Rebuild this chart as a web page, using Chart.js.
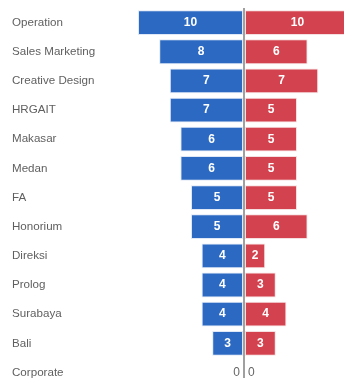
<!DOCTYPE html>
<html><head><meta charset="utf-8">
<script src="https://cdn.jsdelivr.net/npm/chart.js@4.4.1/dist/chart.umd.min.js"></script>
<style>
html,body{margin:0;padding:0;overflow:hidden;background:#fff;width:344px;height:378px;}
#wrap{width:350px;height:394px;position:relative;}
</style></head><body>
<div id="wrap"><canvas id="c" width="350" height="394"></canvas></div>
<script>
const categories = ["Operation","Sales Marketing","Creative Design","HRGAIT","Makasar","Medan","FA","Honorium","Direksi","Prolog","Surabaya","Bali","Corporate"];
const blueValues = [10,8,7,7,6,6,5,5,4,4,4,3,0];
const redValues  = [10,6,7,5,5,5,5,6,2,3,4,3,0];

const labelPlugin = {
  id: 'barLabels',
  afterDatasetsDraw(chart) {
    const ctx = chart.ctx;
    const xs = chart.scales.x;
    ctx.save();
    ctx.textBaseline = 'middle';
    chart.data.datasets.forEach((ds, di) => {
      const meta = chart.getDatasetMeta(di);
      meta.data.forEach((bar, i) => {
        const raw = di === 0 ? blueValues[i] : redValues[i];
        const y = bar.y;
        if (raw === 0) {
          ctx.font = '12px "Liberation Sans", Arial, sans-serif';
          ctx.fillStyle = '#666';
          const x0 = xs.getPixelForValue(0);
          if (di === 0) { ctx.textAlign = 'right'; ctx.fillText('0', x0 - 4, y); }
          else { ctx.textAlign = 'left'; ctx.fillText('0', x0 + 4, y); }
        } else {
          ctx.font = 'bold 12px "Liberation Sans", Arial, sans-serif';
          ctx.fillStyle = '#fff';
          ctx.textAlign = 'center';
          ctx.fillText(String(raw), (bar.x + bar.base) / 2, y);
        }
      });
    });
    ctx.restore();
  }
};

new Chart(document.getElementById('c'), {
  type: 'bar',
  data: {
    labels: categories,
    datasets: [
      { data: blueValues.map(v => -v), backgroundColor: '#2b69c3', borderColor: 'rgba(220,230,245,0.9)', borderWidth: 1, borderSkipped: false, barPercentage: 0.85, categoryPercentage: 1 },
      { data: redValues, backgroundColor: '#d3434f', borderColor: 'rgba(245,220,222,0.9)', borderWidth: 1, borderSkipped: false, barPercentage: 0.85, categoryPercentage: 1 }
    ]
  },
  options: {
    indexAxis: 'y',
    responsive: false,
    animation: false,
    layout: { padding: { left: 12, top: 8, bottom: 0, right: 0 } },
    plugins: { legend: { display: false }, tooltip: { enabled: false } },
    scales: {
      x: {
        stacked: true, min: -10, max: 10,
        ticks: { display: false, padding: 0 },
        border: { display: false },
        grid: { color: c => c.tick && c.tick.value === 0 ? '#a0a0a0' : 'transparent', lineWidth: 2, drawTicks: false },
        afterFit: s => { s.height = 0; }
      },
      y: {
        stacked: true,
        border: { display: false },
        grid: { display: false, drawTicks: false },
        ticks: { crossAlign: 'far', color: '#5f5f5f', padding: 0, font: { family: '"Liberation Sans", Arial, sans-serif', size: 11.6 } },
        afterFit: s => { s.width = 126; }
      }
    }
  },
  plugins: [labelPlugin]
});
</script>
</body></html>
